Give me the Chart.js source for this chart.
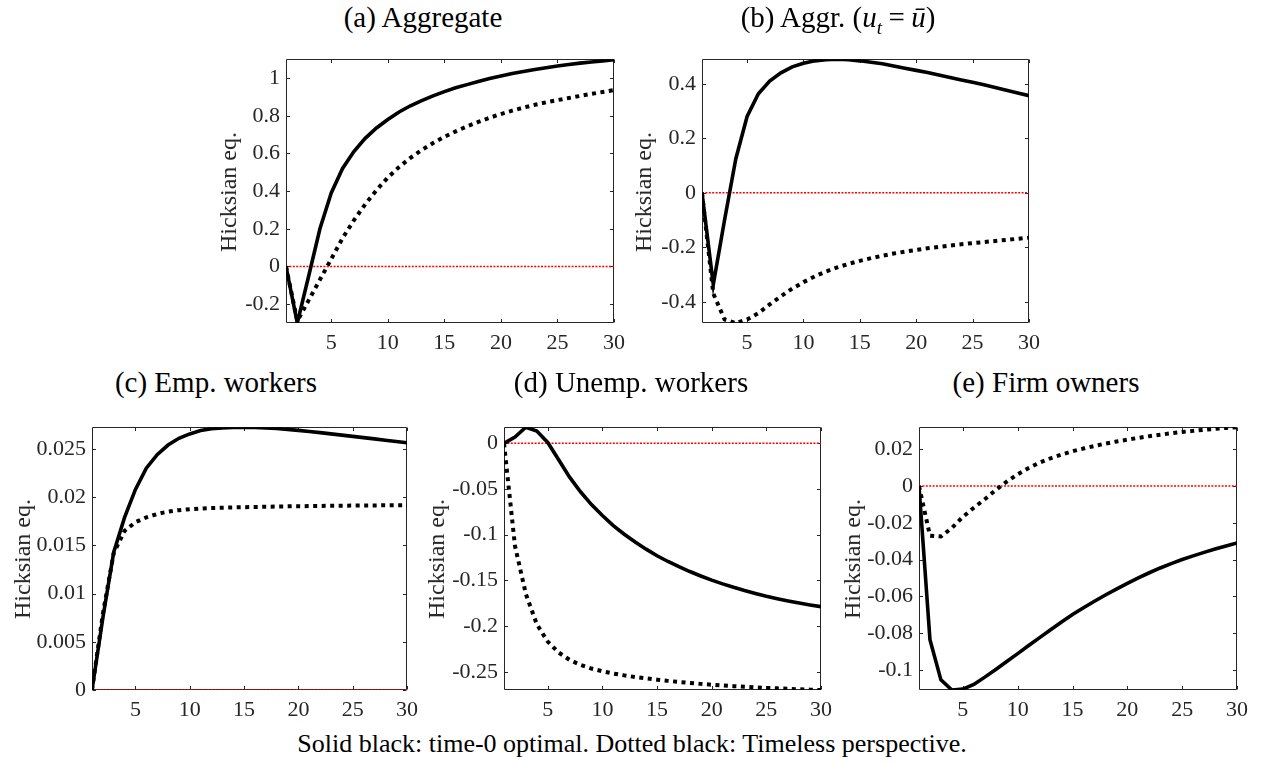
<!DOCTYPE html>
<html>
<head>
<meta charset="utf-8">
<script src="https://cdn.jsdelivr.net/npm/chart.js@4"></script>
<style>
  body { margin: 0; background: #fff; }
  #page { position: relative; width: 1261px; height: 763px; overflow: hidden; font-family: "Liberation Serif", serif; }
  #page canvas { position: absolute; }
  .title { position: absolute; transform: translateX(-50%); white-space: nowrap; font-size: 29px; line-height: 1; color: #000; }
  .ylab { position: absolute; transform: translate(-50%, -50%) rotate(-90deg); white-space: nowrap; font-size: 24px; line-height: 1; color: #262626; }
  .caption { position: absolute; transform: translateX(-50%); white-space: nowrap; font-size: 26px; line-height: 1; color: #000; }
  .op { padding: 0 0.22em; }
</style>
</head>
<body>
<div id="page"></div>
<script>
// quarters after the shock
const periods = [1, 2, 3, 4, 5, 6, 7, 8, 9, 10, 11, 12, 13, 14, 15, 16, 17, 18, 19, 20, 21, 22, 23, 24, 25, 26, 27, 28, 29, 30];

// (a) aggregate welfare
const aggTime0 = [0, -0.30, -0.052, 0.20, 0.39, 0.52, 0.61, 0.68, 0.735, 0.78, 0.82, 0.853, 0.88, 0.905, 0.928, 0.948, 0.965, 0.982, 0.997, 1.011, 1.024, 1.035, 1.045, 1.055, 1.064, 1.072, 1.079, 1.085, 1.091, 1.097];
const aggTimeless = [0, -0.29, -0.18, -0.07, 0.04, 0.15, 0.245, 0.33, 0.405, 0.472, 0.528, 0.576, 0.618, 0.655, 0.688, 0.717, 0.743, 0.767, 0.789, 0.809, 0.827, 0.843, 0.858, 0.871, 0.883, 0.894, 0.905, 0.916, 0.926, 0.936];

// (b) aggregate with unemployment held at steady state
const aggUbarTime0 = [0, -0.337, -0.10, 0.125, 0.28, 0.363, 0.41, 0.44, 0.462, 0.475, 0.484, 0.488, 0.49, 0.488, 0.484, 0.479, 0.473, 0.465, 0.457, 0.449, 0.441, 0.432, 0.423, 0.414, 0.405, 0.396, 0.386, 0.376, 0.366, 0.356];
const aggUbarTimeless = [0, -0.37, -0.465, -0.478, -0.465, -0.442, -0.41, -0.38, -0.352, -0.328, -0.307, -0.289, -0.274, -0.261, -0.25, -0.24, -0.231, -0.223, -0.216, -0.21, -0.204, -0.199, -0.194, -0.189, -0.185, -0.181, -0.177, -0.173, -0.169, -0.165];

// (c) employed workers
const empTime0 = [0, 0.0075, 0.0143, 0.0179, 0.0208, 0.023, 0.0244, 0.0254, 0.0261, 0.02655, 0.0269, 0.0271, 0.02718, 0.02723, 0.02725, 0.02723, 0.02718, 0.02711, 0.02702, 0.02692, 0.02681, 0.02669, 0.02656, 0.02643, 0.0263, 0.02617, 0.02604, 0.0259, 0.02577, 0.02563];
const empTimeless = [0, 0.0079, 0.0142, 0.0165, 0.0174, 0.0179, 0.01825, 0.0185, 0.01865, 0.01875, 0.01882, 0.01887, 0.0189, 0.01893, 0.01896, 0.01898, 0.019, 0.01902, 0.01904, 0.01906, 0.01907, 0.01909, 0.0191, 0.01911, 0.01912, 0.01913, 0.01914, 0.01915, 0.01916, 0.01917];

// (d) unemployed workers
const unempTime0 = [0, 0.007, 0.0177, 0.0135, 0.001, -0.018, -0.037, -0.053, -0.067, -0.079, -0.09, -0.0995, -0.108, -0.1158, -0.123, -0.1293, -0.135, -0.1403, -0.1452, -0.1497, -0.1538, -0.1576, -0.1611, -0.1643, -0.1673, -0.17, -0.1725, -0.1748, -0.1769, -0.1788];
const unempTimeless = [0, -0.112, -0.165, -0.198, -0.217, -0.229, -0.237, -0.2425, -0.2465, -0.2495, -0.252, -0.254, -0.2558, -0.2573, -0.2587, -0.26, -0.2612, -0.2623, -0.2633, -0.2642, -0.265, -0.2658, -0.2665, -0.2671, -0.2677, -0.2682, -0.2687, -0.2692, -0.2696, -0.27];

// (e) firm owners
const ownerTime0 = [0, -0.0836, -0.1055, -0.111, -0.1105, -0.108, -0.104, -0.0998, -0.0955, -0.0912, -0.0868, -0.0825, -0.0782, -0.074, -0.0699, -0.0662, -0.0627, -0.0593, -0.0561, -0.053, -0.05, -0.0472, -0.0446, -0.0422, -0.04, -0.038, -0.0361, -0.0343, -0.0326, -0.031];
const ownerTimeless = [0, -0.027, -0.0275, -0.0228, -0.0168, -0.0118, -0.0072, -0.0022, 0.0024, 0.0064, 0.0098, 0.0127, 0.0151, 0.0171, 0.0189, 0.0204, 0.0218, 0.0231, 0.0242, 0.0252, 0.0262, 0.0271, 0.0279, 0.0287, 0.0294, 0.03, 0.0306, 0.0311, 0.0316, 0.032];

const zeroLevel = 0;

// tick values
const xTicks = [5, 10, 15, 20, 25, 30];
const aggTicks = [-0.2, 0, 0.2, 0.4, 0.6, 0.8, 1];
const aggUbarTicks = [-0.4, -0.2, 0, 0.2, 0.4];
const empTicks = [0, 0.005, 0.01, 0.015, 0.02, 0.025];
const unempTicks = [-0.25, -0.2, -0.15, -0.1, -0.05, 0];
const ownerTicks = [-0.1, -0.08, -0.06, -0.04, -0.02, 0, 0.02];

const panels = [
  { title: '(a) Aggregate', solid: aggTime0, dotted: aggTimeless, ticks: aggTicks, min: -0.3, max: 1.1,
    box: [286, 52, 330, 271], titleX: 423, titleY: 3, labX: 228 },
  { title: '(b) Aggr. (<i>u<sub style="font-size:19px">t</sub></i><span class="op">=</span><i>ū</i>)', solid: aggUbarTime0, dotted: aggUbarTimeless, ticks: aggUbarTicks, min: -0.478, max: 0.49,
    box: [702, 52, 329, 271], titleX: 838, titleY: 3, labX: 643 },
  { title: '(c) Emp. workers', solid: empTime0, dotted: empTimeless, ticks: empTicks, min: 0, max: 0.02725,
    box: [92, 420, 317, 270], titleX: 216, titleY: 368, labX: 22 },
  { title: '(d) Unemp. workers', solid: unempTime0, dotted: unempTimeless, ticks: unempTicks, min: -0.27, max: 0.0177,
    box: [504, 420, 319, 270], titleX: 631, titleY: 368, labX: 436 },
  { title: '(e) Firm owners', solid: ownerTime0, dotted: ownerTimeless, ticks: ownerTicks, min: -0.111, max: 0.032,
    box: [919, 420, 320, 270], titleX: 1046, titleY: 368, labX: 852 }
];

const axisW = 80, axisH = 36, padT = 12, padR = 16;
const tickFont = { family: 'Liberation Serif', size: 22 };
const axisColor = '#262626';

// MATLAB-style frame: full box with inward ticks on all four sides, under the data
const boxTicks = {
  id: 'boxTicks',
  beforeDatasetsDraw(chart) {
    const { ctx, chartArea: a, scales } = chart;
    const len = 3.5;
    ctx.save();
    ctx.strokeStyle = axisColor;
    ctx.lineWidth = 1;
    ctx.beginPath();
    const l = Math.round(a.left) + 0.5, r = Math.round(a.right) - 0.5;
    const t = Math.round(a.top) + 0.5, b = Math.round(a.bottom) - 0.5;
    ctx.rect(l, t, r - l, b - t);
    scales.x.ticks.forEach(tk => {
      const px = Math.round(scales.x.getPixelForValue(tk.value)) + 0.5;
      ctx.moveTo(px, b); ctx.lineTo(px, b - len);
      ctx.moveTo(px, t); ctx.lineTo(px, t + len);
    });
    scales.y.ticks.forEach(tk => {
      const py = Math.round(scales.y.getPixelForValue(tk.value)) + 0.5;
      ctx.moveTo(l, py); ctx.lineTo(l + len, py);
      ctx.moveTo(r, py); ctx.lineTo(r - len, py);
    });
    ctx.stroke();
    ctx.restore();
  }
};

const page = document.getElementById('page');

function toPoints(values) {
  return periods.map((p, i) => ({ x: p, y: values[i] }));
}

panels.forEach(p => {
  const [left, top, w, h] = p.box;
  const canvas = document.createElement('canvas');
  canvas.width = w + axisW + padR;
  canvas.height = h + padT + axisH;
  canvas.style.left = (left - axisW) + 'px';
  canvas.style.top = (top - padT) + 'px';
  page.appendChild(canvas);

  new Chart(canvas.getContext('2d'), {
    type: 'line',
    data: {
      datasets: [
        { label: 'time-0 optimal', data: toPoints(p.solid), borderColor: '#000', borderWidth: 3.6 },
        { label: 'Timeless perspective', data: toPoints(p.dotted), borderColor: '#000', borderWidth: 4,
          borderDash: [4, 4.5], borderCapStyle: 'butt' },
        { label: 'zero', data: periods.map(x => ({ x, y: zeroLevel })), borderColor: '#ff0000', borderWidth: 1.5,
          borderDash: [2, 1.4] }
      ]
    },
    options: {
      responsive: false,
      animation: false,
      events: [],
      layout: { padding: { left: 0, top: padT, right: padR, bottom: 0 } },
      elements: { point: { radius: 0 }, line: { tension: 0, fill: false } },
      plugins: { legend: { display: false }, tooltip: { enabled: false } },
      scales: {
        x: {
          type: 'linear', min: 1, max: 30,
          grid: { display: false, drawTicks: false },
          border: { display: false },
          afterBuildTicks: s => { s.ticks = xTicks.map(v => ({ value: v })); },
          afterFit: s => { s.height = axisH; },
          ticks: { font: tickFont, color: axisColor, padding: 7, autoSkip: false, maxRotation: 0,
            callback: v => String(v) }
        },
        y: {
          type: 'linear', min: p.min, max: p.max,
          grid: { display: false, drawTicks: false },
          border: { display: false },
          afterBuildTicks: s => { s.ticks = p.ticks.map(v => ({ value: v })); },
          afterFit: s => { s.width = axisW; },
          ticks: { font: tickFont, color: axisColor, padding: 6, autoSkip: false,
            callback: v => String(v) }
        }
      }
    },
    plugins: [boxTicks]
  });

  const title = document.createElement('div');
  title.className = 'title';
  title.innerHTML = p.title;
  title.style.left = p.titleX + 'px';
  title.style.top = p.titleY + 'px';
  page.appendChild(title);

  const lab = document.createElement('div');
  lab.className = 'ylab';
  lab.textContent = 'Hicksian eq.';
  lab.style.left = p.labX + 'px';
  lab.style.top = (top + h / 2 + 4) + 'px';
  page.appendChild(lab);
});

const caption = document.createElement('div');
caption.className = 'caption';
caption.textContent = 'Solid black: time-0 optimal. Dotted black: Timeless perspective.';
caption.style.left = '632px';
caption.style.top = '731px';
page.appendChild(caption);
</script>
</body>
</html>
